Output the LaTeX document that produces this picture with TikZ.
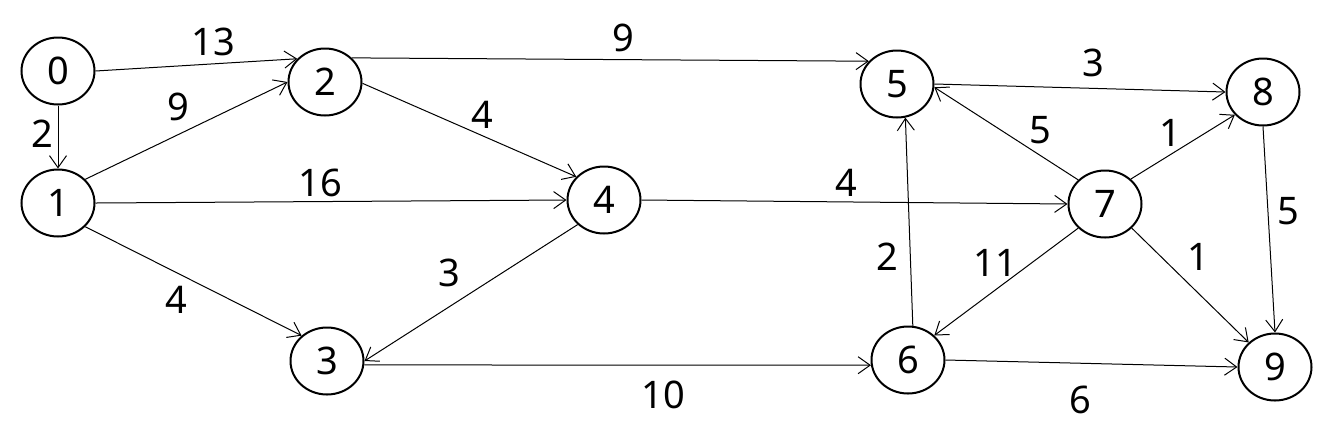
\documentclass[tikz,border=0pt]{standalone}
\usepackage{fontspec}
\setmainfont{Noto Sans}
\usetikzlibrary{arrows.meta,shapes.geometric}

\begin{document}
\begin{tikzpicture}[
  x=0.5pt, y=-0.5pt,
  vtx/.style={draw, ellipse, line width=1pt, minimum width=36.5pt,
              minimum height=33.5pt, inner sep=0pt,
              font=\fontsize{19}{22}\selectfont},
  lbl/.style={inner sep=0pt, font=\fontsize{19}{22}\selectfont},
  arr/.style={-{Straight Barb[length=6pt,width=8.5pt]}, line width=0.5pt}
]
\useasboundingbox (0,0) rectangle (1329,436);
% vertices
\node[vtx] (v0) at (58,71)   {0};
\node[vtx] (v1) at (58,203)  {1};
\node[vtx] (v2) at (325,82)  {2};
\node[vtx] (v3) at (327,361) {3};
\node[vtx] (v4) at (604,200) {4};
\node[vtx] (v5) at (897,84)  {5};
\node[vtx] (v6) at (908,360) {6};
\node[vtx] (v7) at (1105,204) {7};
\node[vtx] (v8) at (1263,92) {8};
\node[vtx] (v9) at (1275,367) {9};
% edges
\draw[arr] (v0.east) -- (v2.140);
\draw[arr] (v0.south) -- (v1.north);
\draw[arr] (v1.41) -- (v2.west);
\draw[arr] (v1.east) -- (v4.west);
\draw[arr] (v1.-41) -- (v3.135);
\draw[arr] (v2.42) -- (v5.141);
\draw[arr] (v2.-2) -- (v4.140);
\draw[arr] (v4.223) -- (v3.east);
\draw[arr] (v4.east) -- (v7.west);
\draw[arr] (v3.-6) -- (v6.188);
\draw[arr] (v5.east) -- (v8.west);
\draw[arr] (v7.138) -- (v5.-5);
\draw[arr] (v7.44) -- (v8.-141);
\draw[arr] (v8.south) -- (v9.north);
\draw[arr] (v7.222) -- (v6.43);
\draw[arr] (v6.82) -- (v5.-76);
\draw[arr] (v7.-42) -- (v9.137);
\draw[arr] (v6.east) -- (v9.west);
% weights
\node[lbl] (w02) at (213,42)  {13};
\node[lbl] (w01) at (42,134)  {2};
\node[lbl] (w12) at (178,107) {9};
\node[lbl] (w14) at (320,183) {16};
\node[lbl] (w13) at (176,300) {4};
\node[lbl] (w25) at (623,38)  {9};
\node[lbl] (w24) at (482,115) {4};
\node[lbl] (w43) at (449,273) {3};
\node[lbl] (w47) at (846,183) {4};
\node[lbl] (w36) at (663,395) {10};
\node[lbl] (w58) at (1093,63) {3};
\node[lbl] (w75) at (1040,130) {5};
\node[lbl] (w78) at (1170,133) {1};
\node[lbl] (w89) at (1288,211) {5};
\node[lbl] (w65) at (887,257) {2};
\node[lbl] (w76) at (995,263) {11};
\node[lbl] (w79) at (1198,257) {1};
\node[lbl] (w69) at (1080,400) {6};
\end{tikzpicture}
\end{document}
